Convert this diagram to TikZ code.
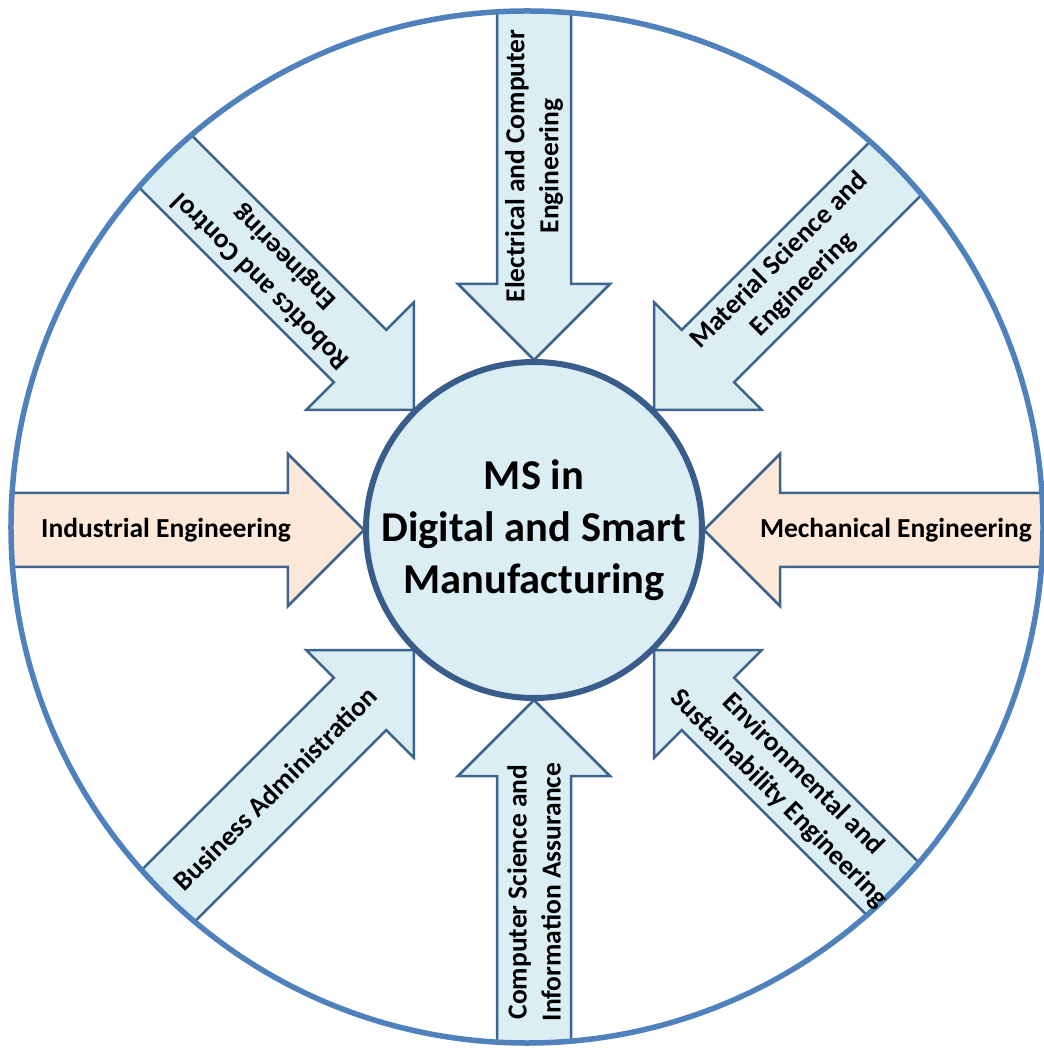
\documentclass[tikz,border=0pt]{standalone}
\usepackage{fontspec}
\setmainfont{Carlito}
\usepackage{tikz}
\usetikzlibrary{positioning,calc}

\definecolor{ringblue}{HTML}{4F81BD}
\definecolor{edgeblue}{HTML}{3F638F}
\definecolor{hubedge}{HTML}{385D8A}
\definecolor{paleblue}{HTML}{DBEEF4}
\definecolor{peach}{HTML}{FDE9D9}

\tikzset{
  inarrow/.style={draw=edgeblue, line width=2.5pt, line join=miter},
  armtext/.style={font=\fontsize{27.5}{34}\selectfont\bfseries, align=center, text=black, inner sep=0pt},
}

\begin{document}
\begin{tikzpicture}[x=1pt, y=1pt]
    \useasboundingbox (-534,-521) rectangle (509,530);

    % Block arrows, cut off at the ring
    \begin{scope}
        \clip (-7,3) circle (518);
        \foreach \ang/\col in {90/paleblue, 45/paleblue, 0/peach, -45/paleblue,
                               -90/paleblue, -135/paleblue, 180/peach, 135/paleblue}
            \draw[inarrow, fill=\col, rotate=\ang]
                (170,0) -- (246,76) -- (246,37) -- (600,37)
                -- (600,-37) -- (246,-37) -- (246,-76) -- cycle;
    \end{scope}

    % Ring
    \draw[ringblue, line width=5.5pt] (-7,3) circle (516);

    % Hub
    \node[circle, draw=hubedge, line width=6pt, fill=paleblue, minimum size=336pt,
          inner sep=0pt, align=center, font=\fontsize{42.5}{52}\selectfont\bfseries]
        (hub) at (0,0) {MS in\\Digital and Smart\\Manufacturing};

    % Arrow labels
    \node[armtext, rotate=90] (ece) at (90:364) {Electrical and Computer\\Engineering};
    \node[armtext, rotate=45] (mse) at (45:364) {Material Science and\\Engineering};
    \node[armtext] (mech) at (0:362) {Mechanical Engineering};
    \node[armtext, rotate=-45] (ese) at (-45:363) {Environmental and\\Sustainability Engineering};
    \node[armtext, rotate=90] (csia) at (-90:362) {Computer Science and\\Information Assurance};
    \node[armtext, rotate=45] (busad) at (-135:366) {Business Administration};
    \node[armtext] (ind) at (180:368) {Industrial Engineering};
    \node[armtext, rotate=135] (rce) at (135:369) {Robotics and Control\\Engineering};
\end{tikzpicture}
\end{document}
